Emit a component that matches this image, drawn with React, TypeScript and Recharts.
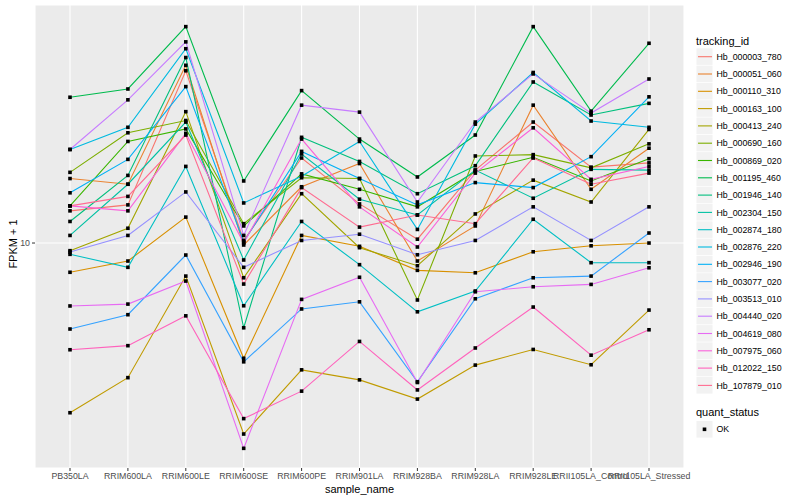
import { CartesianGrid, Label, Line, LineChart, XAxis, YAxis } from 'recharts';

const samples = [
  'PB350LA', 'RRIM600LA', 'RRIM600LE', 'RRIM600SE', 'RRIM600PE', 'RRIM901LA',
  'RRIM928BA', 'RRIM928LA', 'RRIM928LE', 'RRII105LA_Control', 'RRII105LA_Stressed',
];

// FPKM + 1 per sample
const hb000003_780 = [12.8, 13.4, 37.5, 10.2, 19.2, 13.5, 10.3, 17.5, 25.3, 17.9, 18.5];
const hb000051_060 = [16.4, 15.7, 39.1, 9.85, 15.4, 18.4, 8.71, 11.4, 28.8, 15.1, 20.7];
const hb000110_310 = [7.99, 8.71, 12.2, 4.13, 10.6, 9.75, 8.11, 7.96, 9.35, 9.79, 10.0];
const hb000163_100 = [2.72, 3.56, 7.76, 2.31, 3.78, 3.5, 3.02, 3.92, 4.42, 3.93, 5.98];
const hb000413_240 = [9.43, 11.2, 27.4, 7.66, 14.6, 9.65, 8.4, 12.5, 16.2, 13.7, 23.9];
const hb000690_160 = [17.2, 23.3, 25.6, 11.6, 16.5, 16.4, 6.46, 19.5, 19.7, 17.8, 21.4];
const hb000869_020 = [13.3, 21.8, 24.0, 11.4, 17.0, 15.1, 13.2, 17.3, 19.3, 16.1, 19.1];
const hb001195_460 = [30.6, 32.6, 52.6, 16.1, 32.2, 22.2, 16.6, 22.9, 52.6, 27.5, 46.3];
const hb001946_140 = [11.8, 16.8, 41.5, 5.22, 22.5, 18.7, 14.6, 18.1, 34.4, 26.7, 29.2];
const hb002304_150 = [10.6, 15.7, 25.3, 8.78, 19.8, 14.0, 12.4, 17.5, 14.1, 17.6, 17.5];
const hb002874_180 = [9.17, 8.3, 18.0, 6.18, 11.8, 8.47, 5.9, 6.92, 12.0, 8.6, 8.6];
const hb002876_220 = [20.5, 24.3, 44.4, 13.6, 16.7, 21.8, 11.1, 24.9, 37.0, 25.5, 24.3];
const hb002946_190 = [14.7, 19.0, 33.2, 10.1, 20.2, 16.4, 13.4, 15.9, 15.3, 19.4, 30.7];
const hb003077_020 = [5.17, 5.77, 9.12, 4.02, 6.03, 6.37, 3.45, 6.52, 7.66, 7.76, 10.8];
const hb003513_010 = [9.33, 10.6, 14.8, 8.3, 10.2, 10.7, 9.14, 10.2, 13.2, 10.2, 13.2];
const hb004440_020 = [20.5, 30.0, 46.8, 10.6, 28.8, 27.3, 13.7, 25.3, 36.6, 27.1, 35.2];
const hb004619_080 = [6.17, 6.26, 7.47, 2.07, 6.49, 7.69, 3.43, 6.88, 7.15, 7.28, 8.27];
const hb007975_060 = [13.3, 12.8, 23.2, 10.0, 22.2, 13.2, 9.7, 17.1, 24.2, 16.3, 18.0];
const hb012022_150 = [4.41, 4.55, 5.72, 2.6, 3.21, 4.7, 3.24, 4.47, 6.12, 4.23, 5.14];
const hb107879_010 = [13.3, 14.3, 22.9, 7.3, 15.3, 11.3, 12.4, 11.6, 19.2, 15.7, 17.1];

const series = [
  { id: 'Hb_000003_780', color: '#F8766D', values: hb000003_780 },
  { id: 'Hb_000051_060', color: '#EA8331', values: hb000051_060 },
  { id: 'Hb_000110_310', color: '#D89000', values: hb000110_310 },
  { id: 'Hb_000163_100', color: '#C09B00', values: hb000163_100 },
  { id: 'Hb_000413_240', color: '#A3A500', values: hb000413_240 },
  { id: 'Hb_000690_160', color: '#7CAE00', values: hb000690_160 },
  { id: 'Hb_000869_020', color: '#39B600', values: hb000869_020 },
  { id: 'Hb_001195_460', color: '#00BB4E', values: hb001195_460 },
  { id: 'Hb_001946_140', color: '#00BF7D', values: hb001946_140 },
  { id: 'Hb_002304_150', color: '#00C1A3', values: hb002304_150 },
  { id: 'Hb_002874_180', color: '#00BFC4', values: hb002874_180 },
  { id: 'Hb_002876_220', color: '#00BAE0', values: hb002876_220 },
  { id: 'Hb_002946_190', color: '#00B0F6', values: hb002946_190 },
  { id: 'Hb_003077_020', color: '#35A2FF', values: hb003077_020 },
  { id: 'Hb_003513_010', color: '#9590FF', values: hb003513_010 },
  { id: 'Hb_004440_020', color: '#C77CFF', values: hb004440_020 },
  { id: 'Hb_004619_080', color: '#E76BF3', values: hb004619_080 },
  { id: 'Hb_007975_060', color: '#FA62DB', values: hb007975_060 },
  { id: 'Hb_012022_150', color: '#FF62BC', values: hb012022_150 },
  { id: 'Hb_107879_010', color: '#FF6C91', values: hb107879_010 },
];

const data = samples.map((s, i) => {
  const row: Record<string, string | number> = { sample_name: s };
  series.forEach((sr) => {
    row[sr.id] = sr.values[i];
  });
  return row;
});

const FONT = '"Liberation Sans", Arial, Helvetica, sans-serif';

const SquareDot = (props: any) => {
  const { cx, cy, index, dataKey } = props;
  if (cx == null || cy == null) return null;
  return <rect key={`${dataKey}-${index}`} x={cx - 1.8} y={cy - 1.8} width={3.6} height={3.6} fill="#000" />;
};

function LegendPanel() {
  const top = 56.7;
  const step = 17.3;
  return (
    <svg width={110} height={500} style={{ position: 'absolute', left: 690, top: 0 }} fontFamily={FONT}>
      <text x={6} y={44.5} fontSize={11} fill="#000">tracking_id</text>
      {series.map((s, i) => {
        const cy = top + i * step;
        return (
          <g key={s.id}>
            <rect x={6.5} y={cy - 8.4} width={16} height={16.6} fill="#F2F2F2" />
            <line x1={8} x2={22} y1={cy} y2={cy} stroke={s.color} strokeWidth={1.1} />
            <text x={26.5} y={cy + 3.1} fontSize={8.8} fill="#000">{s.id}</text>
          </g>
        );
      })}
      <text x={6} y={416.3} fontSize={11} fill="#000">quant_status</text>
      <rect x={6.5} y={421} width={16} height={16.6} fill="#F2F2F2" />
      <rect x={12.7} y={427.5} width={3.6} height={3.6} fill="#000" />
      <text x={26.5} y={432.4} fontSize={8.8} fill="#000">OK</text>
    </svg>
  );
}

export default function App() {
  return (
    <div style={{ position: 'absolute', left: 0, top: 0, width: 800, height: 500, background: '#fff', fontFamily: FONT }}>
      <LineChart width={800} height={500} data={data} margin={{ top: 5, right: 116, bottom: 0, left: 0 }}>
        <CartesianGrid fill="#EBEBEB" stroke="#FFFFFF" strokeWidth={1.1} />
        <XAxis
          dataKey="sample_name"
          scale="point"
          padding={{ left: 35, right: 35 }}
          height={32}
          interval={0}
          axisLine={false}
          tickSize={3}
          tickMargin={2}
          tickLine={{ stroke: '#333333' }}
          tick={{ fontSize: 8.8, fill: '#4D4D4D', fontFamily: FONT }}
        >
          <Label
            content={() => (
              <text x={359.5} y={493} textAnchor="middle" fontSize={11} fill="#000" fontFamily={FONT}>
                sample_name
              </text>
            )}
          />
        </XAxis>
        <YAxis
          type="number"
          scale="log"
          domain={[1.78, 62.1]}
          allowDataOverflow
          ticks={[10]}
          width={35}
          axisLine={false}
          tickSize={3}
          tickMargin={2}
          tickLine={{ stroke: '#333333' }}
          tick={{ fontSize: 8.8, fill: '#4D4D4D', fontFamily: FONT }}
        >
          <Label
            content={() => (
              <text x={16.5} y={244} transform="rotate(-90, 16.5, 244)" textAnchor="middle" fontSize={11} fill="#000" fontFamily={FONT}>
                FPKM + 1
              </text>
            )}
          />
        </YAxis>
        {series.map((s) => (
          <Line
            key={s.id}
            type="linear"
            dataKey={s.id}
            stroke={s.color}
            strokeWidth={1.1}
            dot={false}
            activeDot={false}
            isAnimationActive={false}
          />
        ))}
        {series.map((s) => (
          <Line
            key={`${s.id}-pts`}
            type="linear"
            dataKey={s.id}
            stroke="none"
            dot={SquareDot}
            activeDot={false}
            legendType="none"
            isAnimationActive={false}
          />
        ))}
      </LineChart>
      <LegendPanel />
    </div>
  );
}
